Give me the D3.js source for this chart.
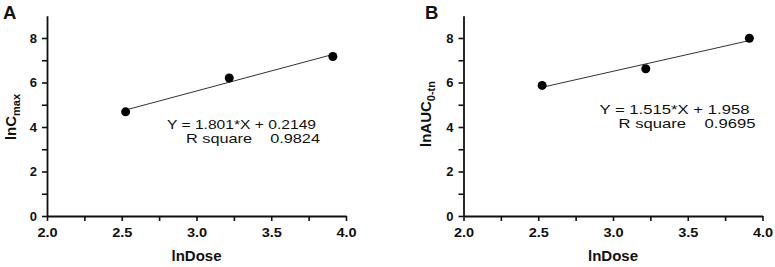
<!DOCTYPE html>
<html>
<head>
<meta charset="utf-8">
<script src="https://cdn.jsdelivr.net/npm/d3@7"></script>
<style>
  body { margin: 0; background: #fff; }
  svg text { font-family: "Liberation Sans", Arial, sans-serif; fill: #111; }
  .tick text { font-size: 13px; font-weight: bold; }
</style>
</head>
<body>
<div id="chart"></div>
<script>
// data: ln(dose) vs ln(PK param)
const lnDose = [2.526, 3.219, 3.912];
const lnCmax = [4.68, 6.2, 7.17];
const lnAUC = [5.87, 6.62, 7.99];
const fitA = { slope: 1.801, intercept: 0.2149, r2: "0.9824" };
const fitB = { slope: 1.515, intercept: 1.958, r2: "0.9695" };
const xTicks = [2.0, 2.5, 3.0, 3.5, 4.0];
const xMinor = [2.25, 2.75, 3.25, 3.75];
const yTicks = [0, 2, 4, 6, 8];
const yMinor = [1, 3, 5, 7];

const W = 775, H = 267;
const svg = d3.select("#chart").append("svg").attr("width", W).attr("height", H);

function panel(opt) {
  const g = svg.append("g").attr("transform", "translate(" + opt.left + ",0)");
  const x = d3.scaleLinear().domain([2, 4]).range([0, 299]);
  const y = d3.scaleLinear().domain([0, 9]).range([216, 15.75]);

  // x axis
  const xa = g.append("g").attr("transform", "translate(0,216)")
    .call(d3.axisBottom(x).tickValues(xTicks).tickFormat(d3.format(".1f")).tickSize(5).tickSizeOuter(0));
  g.append("g").attr("transform", "translate(0,216)")
    .call(d3.axisBottom(x).tickValues(xMinor).tickFormat("").tickSize(5).tickSizeOuter(0))
    .select(".domain").remove();
  // y axis
  const ya = g.append("g")
    .call(d3.axisLeft(y).tickValues(yTicks).tickSize(5).tickSizeOuter(0));
  g.append("g")
    .call(d3.axisLeft(y).tickValues(yMinor).tickFormat("").tickSize(5).tickSizeOuter(0))
    .select(".domain").remove();

  g.selectAll(".domain").attr("stroke", "#111").attr("stroke-width", 1.8);
  g.selectAll(".tick line").attr("stroke", "#111").attr("stroke-width", 1.6);
  xa.selectAll("text").attr("dy", "1.0em").attr("transform", "scale(1.12,1)")
    .attr("x", 0);
  ya.selectAll("text").attr("x", -10);

  // fit line
  const x0 = d3.min(lnDose), x1 = d3.max(lnDose);
  g.append("line")
    .attr("x1", x(x0)).attr("y1", y(opt.fit.slope * x0 + opt.fit.intercept))
    .attr("x2", x(x1)).attr("y2", y(opt.fit.slope * x1 + opt.fit.intercept))
    .attr("stroke", "#333").attr("stroke-width", 1);

  // points
  g.selectAll("circle").data(opt.ys).join("circle")
    .attr("cx", (d, i) => x(lnDose[i]))
    .attr("cy", d => y(d))
    .attr("r", 4.5).attr("fill", "#000");

  // equation
  g.append("text").attr("x", opt.eqX).attr("y", opt.eqY).attr("font-size", 13)
    .attr("textLength", opt.eqW).attr("lengthAdjust", "spacingAndGlyphs")
    .text("Y = " + opt.fit.slope + "*X + " + opt.fit.intercept);
  g.append("text").attr("x", opt.rX).attr("y", opt.eqY + 14).attr("font-size", 13)
    .attr("textLength", opt.rW).attr("lengthAdjust", "spacingAndGlyphs")
    .attr("xml:space", "preserve")
    .text("R square    " + opt.fit.r2);

  // axis titles
  g.append("text").attr("x", 149.5).attr("y", 261).attr("text-anchor", "middle")
    .attr("font-size", 15).attr("font-weight", "bold").text("lnDose");
  const yl = g.append("text")
    .attr("transform", "translate(" + opt.ylabX + "," + opt.ylabY + ") rotate(-90)")
    .attr("text-anchor", "middle").attr("font-size", 15).attr("font-weight", "bold");
  yl.append("tspan").text(opt.ylab);
  yl.append("tspan").attr("font-size", 11).attr("dy", 4).text(opt.ysub);

  // panel letter
  svg.append("text").attr("x", opt.letterX).attr("y", 19).attr("font-size", 18.5)
    .attr("font-weight", "bold").text(opt.letter);
}

panel({ left: 47, ys: lnCmax, fit: fitA, eqX: 120, eqY: 129, eqW: 149, rX: 139, rW: 134,
  ylab: "lnC", ysub: "max", ylabX: -31, ylabY: 117, letter: "A", letterX: 3 });
panel({ left: 463.5, ys: lnAUC, fit: fitB, eqX: 136, eqY: 114, eqW: 150, rX: 155, rW: 137,
  ylab: "lnAUC", ysub: "0-tn", ylabX: -33, ylabY: 114, letter: "B", letterX: 425 });
</script>
</body>
</html>
